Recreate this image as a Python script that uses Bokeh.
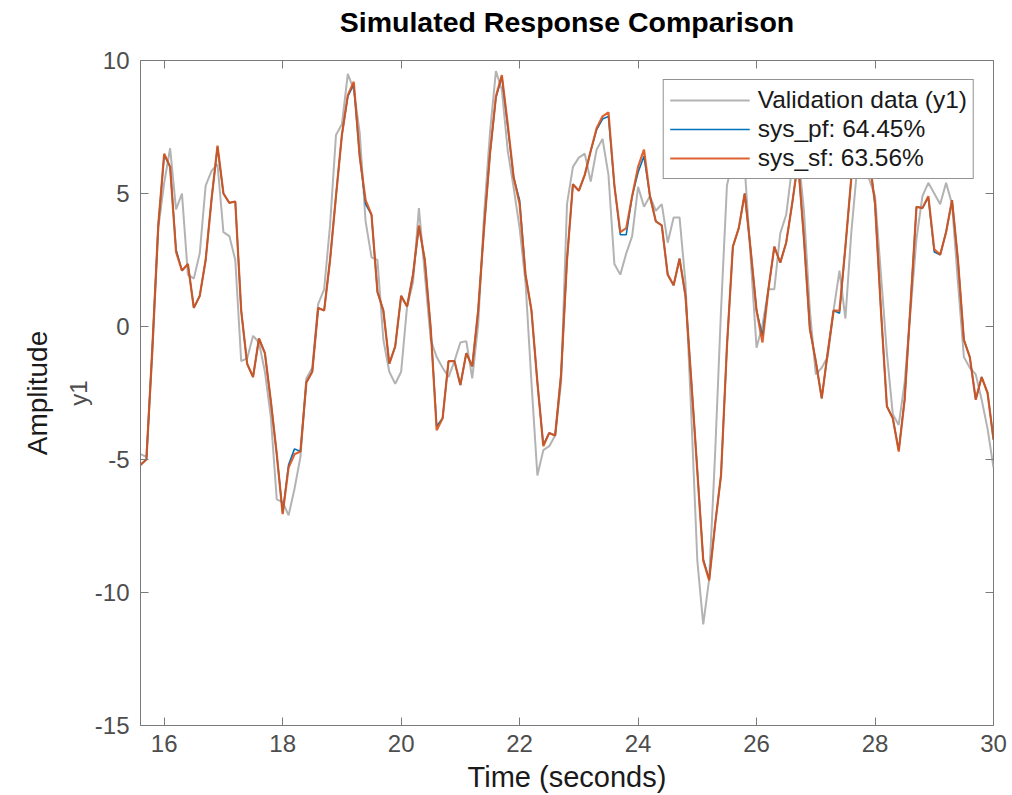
import numpy as np
from bokeh.plotting import figure
from bokeh.models import LinearAxis, FixedTicker, Range1d, Title, CustomJSTickFormatter
from bokeh.embed import file_html
from bokeh.resources import INLINE

# ---- data (sample time 0.1 s, starting at 15.6 s) ----
t_start = 15.6
t_step = 0.1

validation_y1 = [
    -4.8, -4.9, -1.0, 3.7, 5.4, 6.7, 4.4, 5.0, 1.95, 1.8,
    2.75, 5.3, 5.85, 6.1, 3.55, 3.4, 2.5, -1.3, -1.2, -0.35,
    -0.6, -1.7, -3.4, -6.5, -6.6, -7.1, -6.1, -4.9, -1.95, -1.55,
    0.85, 1.4, 3.8, 7.2, 7.6, 9.5, 8.9, 7.3, 3.95, 2.6,
    2.5, -0.5, -1.7, -2.15, -1.7, 0.75, 1.65, 4.45, 1.95, -0.5,
    -1.15, -1.55, -1.9, -1.3, -0.6, -0.55, -1.95, 0.05, 4.2, 7.3,
    9.6, 8.9, 6.6, 5.2, 3.7, 1.65, -2.1, -5.6, -4.65, -4.5,
    -4.1, -2.1, 4.6, 6.0, 6.35, 6.5, 5.45, 6.65, 7.05, 5.7,
    2.35, 1.95, 2.75, 3.4, 5.25, 4.5, 4.9, 4.35, 4.6, 3.15,
    4.1, 4.1, 1.65, -3.4, -8.8, -11.2, -9.5, -4.8, 0.6, 5.3,
    6.3, 6.3, 6.0, 2.6, -0.8, 0.05, 1.4, 1.4, 3.5, 4.2,
    6.0, 6.6, 4.35, 0.6, -1.8, -1.55, -1.15, 0.6, 2.1, 0.3,
    3.55, 6.0, 5.7, 5.55, 4.9, 1.95, -1.0, -3.3, -3.7, -2.1,
    0.6, 3.3, 4.9, 5.4, 5.0, 4.6, 5.4, 4.6, 1.65, -1.15,
    -1.55, -1.8, -2.75, -3.85, -5.3,
]

sys_pf = [
    -5.2, -5.0, -0.8, 3.8, 6.45, 6.0, 2.9, 2.1, 2.35, 0.7,
    1.15, 2.5, 4.8, 6.75, 5.0, 4.65, 4.7, 0.6, -1.4, -1.9,
    -0.45, -1.0, -2.8, -4.8, -7.0, -5.2, -4.6, -4.7, -2.1, -1.7,
    0.7, 0.6, 2.5, 4.9, 7.2, 8.65, 9.1, 6.4, 4.6, 4.2,
    1.3, 0.6, -1.4, -0.75, 1.15, 0.75, 1.95, 3.75, 2.5, -0.1,
    -3.75, -3.45, -1.3, -1.3, -2.2, -1.0, -1.5, 0.6, 3.7, 6.5,
    8.6, 9.4, 7.5, 5.6, 4.75, 1.95, 0.6, -2.1, -4.45, -4.0,
    -4.1, -1.8, 2.5, 5.35, 5.1, 5.7, 6.6, 7.4, 7.8, 7.9,
    5.3, 3.45, 3.45, 4.9, 5.8, 6.4, 4.9, 3.95, 3.8, 1.95,
    1.55, 2.55, 1.15, -2.1, -5.4, -8.75, -9.5, -7.45, -5.6, -0.75,
    3.0, 3.7, 5.0, 2.9, 0.6, -0.35, 1.4, 3.0, 2.4, 3.15,
    4.6, 6.2, 3.3, -0.1, -1.3, -2.7, -1.0, 0.6, 0.5, 3.0,
    5.6, 6.4, 6.2, 6.4, 4.6, 0.6, -3.0, -3.45, -4.65, -2.75,
    0.85, 4.5, 4.45, 4.85, 2.8, 2.7, 3.55, 4.75, 2.5, -0.5,
    -1.15, -2.75, -1.9, -2.5, -4.25,
]

sys_sf = [
    -5.2, -5.0, -0.8, 3.8, 6.5, 6.0, 2.8, 2.1, 2.35, 0.7,
    1.15, 2.5, 4.8, 6.8, 5.0, 4.65, 4.7, 0.6, -1.4, -1.9,
    -0.45, -1.0, -2.8, -4.8, -7.05, -5.3, -4.8, -4.7, -2.1, -1.7,
    0.7, 0.6, 2.5, 4.9, 7.2, 8.7, 9.2, 6.4, 4.75, 4.2,
    1.3, 0.6, -1.4, -0.75, 1.15, 0.75, 1.95, 3.8, 2.5, -0.1,
    -3.9, -3.45, -1.3, -1.3, -2.2, -1.0, -1.5, 0.6, 3.7, 6.5,
    8.65, 9.45, 7.6, 5.6, 4.6, 1.95, 0.6, -2.1, -4.5, -4.0,
    -4.1, -1.8, 2.5, 5.35, 5.1, 5.7, 6.6, 7.45, 7.9, 8.05,
    5.3, 3.55, 3.7, 4.9, 6.0, 6.65, 4.9, 3.95, 3.8, 1.95,
    1.55, 2.55, 1.15, -2.1, -5.45, -8.8, -9.55, -7.45, -5.6, -0.75,
    3.0, 3.7, 5.0, 2.9, 0.6, -0.6, 1.4, 3.0, 2.4, 3.15,
    4.6, 6.2, 3.3, -0.1, -1.3, -2.7, -1.0, 0.6, 0.6, 3.0,
    5.6, 6.4, 6.2, 6.4, 4.6, 0.6, -3.0, -3.45, -4.7, -2.75,
    0.85, 4.5, 4.45, 4.9, 2.9, 2.7, 3.55, 4.75, 2.5, -0.5,
    -1.15, -2.75, -1.9, -2.5, -4.25,
]

x_ticks = [16, 18, 20, 22, 24, 26, 28, 30]
y_ticks = [-15, -10, -5, 0, 5, 10]
y_tick_labels = {-15: "-15", -10: "-10", -5: "-5", 0: "0", 5: "5", 10: "10"}
series_labels = ["Validation data (y1)", "sys_pf: 64.45%", "sys_sf: 63.56%"]
title_text = "Simulated Response Comparison"

time = np.round(t_start + t_step * np.arange(len(validation_y1)), 2)

FONT = "Liberation Sans"
AX_COLOR = "#7a7a7a"
LBL_COLOR = "#4d4d4d"

p = figure(width=1012, height=795, x_range=Range1d(15.6, 30), y_range=Range1d(-15, 10),
           output_backend="svg", toolbar_location=None,
           min_border_left=140, min_border_right=19, min_border_top=60, min_border_bottom=70,
           background_fill_color="white", border_fill_color="white")
p.title.visible = False

p.xgrid.visible = False
p.ygrid.visible = False
p.outline_line_color = AX_COLOR
p.outline_line_width = 1

for ax, ticks in ((p.xaxis[0], x_ticks), (p.yaxis[0], y_ticks)):
    ax.ticker = FixedTicker(ticks=ticks)
    ax.major_tick_in = 8
    ax.major_tick_out = 0
    ax.minor_tick_line_color = None
    ax.axis_line_color = AX_COLOR
    ax.major_tick_line_color = AX_COLOR
    ax.major_label_text_font = FONT
    ax.major_label_text_font_size = "24px"
    ax.major_label_text_color = LBL_COLOR
    ax.axis_label_text_font = FONT
    ax.axis_label_text_font_style = "normal"

p.xaxis[0].axis_label = "Time (seconds)"
p.xaxis[0].axis_label_text_font_size = "29px"
p.xaxis[0].axis_label_text_color = "#1a1a1a"
p.xaxis[0].major_label_standoff = 9
p.xaxis[0].axis_label_standoff = 6

p.yaxis[0].axis_label = "y1"
p.yaxis[0].major_label_overrides = y_tick_labels
p.yaxis[0].axis_label_text_font_size = "24px"
p.yaxis[0].axis_label_text_color = LBL_COLOR
p.yaxis[0].major_label_standoff = 11
p.yaxis[0].axis_label_standoff = 0

empty = CustomJSTickFormatter(code="return ''")
# top axis: mirrored ticks, carries the chart title as its label
top_axis = LinearAxis(ticker=FixedTicker(ticks=x_ticks), formatter=empty,
                      major_tick_in=8, major_tick_out=0, minor_tick_line_color=None,
                      axis_line_color=None, major_tick_line_color=AX_COLOR,
                      major_label_standoff=0, major_label_text_font_size="1px",
                      axis_label=title_text, axis_label_standoff=23,
                      axis_label_text_font=FONT, axis_label_text_font_size="28.5px",
                      axis_label_text_font_style="bold", axis_label_text_color="#000000")
right_axis = LinearAxis(ticker=FixedTicker(ticks=y_ticks), formatter=empty,
                        major_tick_in=8, major_tick_out=0, minor_tick_line_color=None,
                        axis_line_color=None, major_tick_line_color=AX_COLOR,
                        major_label_standoff=0, major_label_text_font_size="1px")
p.add_layout(top_axis, "above")
p.add_layout(right_axis, "right")

p.add_layout(Title(text="Amplitude", align="center", text_font=FONT, text_font_size="28px",
                   text_font_style="normal", text_color="#1a1a1a", standoff=18), "left")

p.line(time, validation_y1, line_color="#b3b3b3", line_width=2, legend_label=series_labels[0])
p.line(time, sys_pf, line_color="#0072BD", line_width=1.6, legend_label=series_labels[1])
p.line(time, sys_sf, line_color="#D95319", line_width=2.2, line_alpha=0.9, legend_label=series_labels[2])

lg = p.legend[0]
lg.location = "top_right"
lg.margin = 19
lg.padding = 6
lg.spacing = 1
lg.glyph_width = 80
lg.glyph_height = 20
lg.label_standoff = 8
lg.label_text_font = FONT
lg.label_text_font_size = "24.5px"
lg.label_text_color = "#1a1a1a"
lg.border_line_color = "#262626"
lg.border_line_width = 1
lg.background_fill_color = "white"
lg.background_fill_alpha = 1.0

open("out.html", "w").write(file_html(p, INLINE))
